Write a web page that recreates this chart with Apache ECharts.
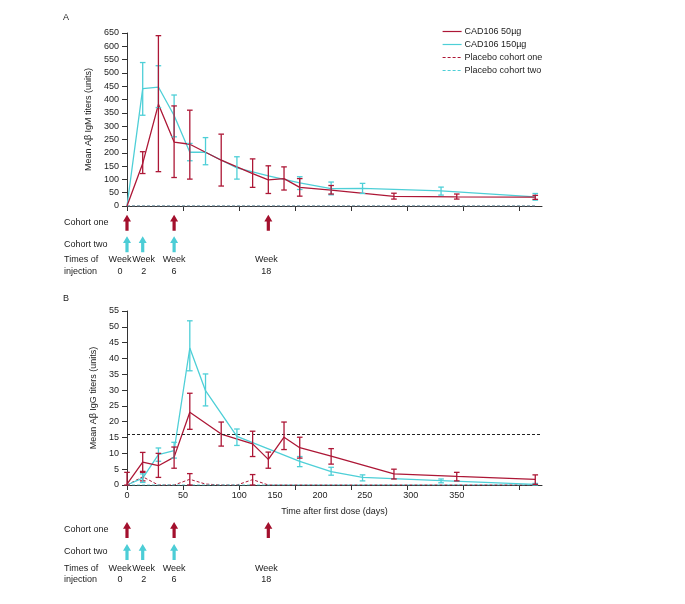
<!DOCTYPE html>
<html>
<head>
<meta charset="utf-8">
<script src="https://cdn.jsdelivr.net/npm/echarts@6/dist/echarts.min.js"></script>
<style>
html, body { margin: 0; padding: 0; background: #fff; }
#chart { width: 685px; height: 604px; }
</style>
</head>
<body>
<div id="chart"></div>
<script>
// panel A: IgM, CAD106 50ug (cohort one)
var igmDays50 = [0, 14, 28, 42, 56, 84, 112, 126, 140, 154, 182, 238, 294, 364]
var igmMean50 = [0, 160, 382, 240, 232, 172, 122, 98, 103, 70, 60, 36, 34, 33]
var igmLow50 = [null, 122, 129, 107, 101, 75, 70, 47, 60, 37, 45, 26, 26, 25]
var igmHigh50 = [null, 204, 640, 376, 360, 270, 177, 151, 147, 103, 77, 48, 45, 40]
// panel A: IgM, CAD106 150ug (cohort two)
var igmDays150 = [0, 14, 28, 42, 56, 70, 98, 126, 154, 182, 210, 280, 364]
var igmMean150 = [0, 441, 447, 340, 202, 202, 143, 113, 87, 65, 66, 57, 34]
var igmLow150 = [null, 341, 370, 260, 170, 155, 101, null, 62, 42, 47, 41, 22]
var igmHigh150 = [null, 539, 527, 417, 235, 257, 185, null, 110, 90, 85, 71, 47]
// panel A: placebo
var igmPlaceboDays = [0, 364]
var igmPlaceboOne = [0, 0]
var igmPlaceboTwo = [0, 0]

// panel B: IgG
var iggDays50 = [0, 14, 28, 42, 56, 84, 112, 126, 140, 154, 182, 238, 294, 364]
var iggMean50 = [0.3, 7.2, 6.1, 8.8, 23, 16.1, 13, 8.1, 15.1, 11.8, 9.1, 3.5, 2.7, 1.8]
var iggLow50 = [0, 4.3, 2.4, 5.3, 17.6, 12.3, 9, 5.3, 11.2, 8.5, 6.6, 1.9, 1.3, 0.2]
var iggHigh50 = [4, 10.3, 10, 12, 29, 19.9, 17, 10.4, 19.9, 15.1, 11.5, 5, 4, 3.2]
var iggDays150 = [0, 14, 28, 42, 56, 70, 98, 154, 182, 210, 280, 364]
var iggMean150 = [0, 2.2, 9.6, 10.9, 43.3, 29.8, 15.4, 7.5, 4.2, 2.4, 1.4, 0.2]
var iggLow150 = [null, 0.8, 7.5, 8.5, 36.1, 25, 12.5, 5.8, 3.1, 1.3, 0.7, 0]
var iggHigh150 = [null, 3.5, 11.7, 13.5, 51.9, 35.1, 17.7, 9, 5.6, 3.2, 1.9, 0.5]
var iggPlaceboDaysOne = [0, 14, 28, 42, 56, 70, 84, 98, 112, 126, 364]
var iggPlaceboOne = [0, 2.6, 0, 0, 1.8, 0.3, 0, 0, 1.7, 0, 0]
var iggPlaceboLowOne = [null, 1.3, null, null, 0, null, null, null, 0, null, null]
var iggPlaceboHighOne = [null, 4, null, null, 3.6, null, null, null, 3.3, null, null]
var iggPlaceboDaysTwo = [0, 14, 56, 98, 154, 210, 280, 364]
var iggPlaceboTwo = [0, 0, 0, 0, 0, 0, 0, 0]
var iggThreshold = 16

// axes
var xTickDays = [0, 50, 100, 150, 200, 250, 300, 350]
var xLabelDays = [0, 50, 100, 132, 172, 212, 253, 294]
var xTickLabels = ['0', '50', '100', '150', '200', '250', '300', '350']

// injection schedule
var injectionRows = ['Cohort one', 'Cohort two', 'Times of\ninjection']
var cohortOneWeeks = [0, 6, 18]
var cohortTwoWeeks = [0, 2, 6]
var injectionWeeks = [0, 2, 6, 18]

var red = '#ad1736'
var cyan = '#4ecfd7'
var arrowRed = '#a3102d'
var arrowCyan = '#4ccdd6'
var font = 'Liberation Sans, Arial, sans-serif'
var arrowPath = 'path://M5,0 L10,7.5 L7,7.5 L7,18 L3,18 L3,7.5 L0,7.5 Z'

function pairs(xs, ys) {
  return xs.map(function(x, i) { return [x, ys[i]] })
}

function bars(xs, lo, hi) {
  var out = []
  for (var i = 0; i < xs.length; i++) {
    if (lo[i] === null) continue
    out.push([xs[i], lo[i], hi[i]])
  }
  return out
}

function errorBarItem(params, api) {
  var x = api.value(0)
  var a = api.coord([x, api.value(1)])
  var b = api.coord([x, api.value(2)])
  var w = 2.8
  var style = { stroke: api.visual('color'), lineWidth: 1.3, fill: null }
  return {
    type: 'group',
    children: [
      { type: 'line', shape: { x1: a[0], y1: a[1], x2: b[0], y2: b[1] }, style: style },
      { type: 'line', shape: { x1: a[0] - w, y1: a[1], x2: a[0] + w, y2: a[1] }, style: style },
      { type: 'line', shape: { x1: b[0] - w, y1: b[1], x2: b[0] + w, y2: b[1] }, style: style }
    ]
  }
}

function lineSeries(name, xs, ys, color, axis, dashed) {
  return {
    name: name,
    type: 'line',
    xAxisIndex: axis,
    yAxisIndex: axis,
    data: pairs(xs, ys),
    symbol: 'none',
    color: color,
    lineStyle: { color: color, width: dashed ? 1 : 1.3, type: dashed ? [3, 2] : 'solid' },
    z: dashed ? 3 : 4
  }
}

function errorSeries(xs, lo, hi, color, axis) {
  return {
    name: 'err',
    type: 'custom',
    xAxisIndex: axis,
    yAxisIndex: axis,
    renderItem: errorBarItem,
    itemStyle: { color: color },
    data: bars(xs, lo, hi),
    encode: { x: 0, y: [1, 2] },
    z: 5
  }
}

function arrowSeries(weeks, row, color, axis) {
  return {
    type: 'scatter',
    xAxisIndex: axis,
    yAxisIndex: axis,
    symbol: arrowPath,
    symbolSize: [8, 16],
    itemStyle: { color: color, opacity: 1 },
    data: weeks.map(function(w) { return [w * 7, row] })
  }
}

function weekLabelSeries(axis) {
  var shift = { 0: -7, 2: 1, 6: 0, 18: -2 }
  return {
    type: 'scatter',
    xAxisIndex: axis,
    yAxisIndex: axis,
    symbolSize: 0,
    itemStyle: { opacity: 1, color: '#222' },
    data: injectionWeeks.map(function(w) {
      return { value: [w * 7, 2], label: { offset: [shift[w], 0] } }
    }),
    label: {
      show: true,
      position: 'inside',
      fontSize: 9,
      lineHeight: 11.5,
      fontFamily: font,
      color: '#222',
      textBorderWidth: 0,
      opacity: 1,
      formatter: function(p) { return 'Week\n' + p.value[0] / 7 }
    }
  }
}

function xAxisFor(grid, visible, withLabels) {
  return {
    type: 'value',
    gridIndex: grid,
    min: 0,
    max: 370,
    show: visible,
    splitLine: { show: false },
    axisLine: { lineStyle: { color: '#333', width: 1 } },
    axisTick: { show: true, length: 5, customValues: xTickDays, lineStyle: { color: '#333' } },
    axisLabel: {
      show: withLabels,
      customValues: xLabelDays,
      fontSize: 9,
      fontFamily: font,
      color: '#222',
      margin: 6,
      formatter: function(v) {
        var i = xLabelDays.indexOf(v)
        return i >= 0 ? xTickLabels[i] : ''
      }
    }
  }
}

function yAxisFor(grid, max, step, name, gap) {
  return {
    type: 'value',
    gridIndex: grid,
    min: 0,
    max: max,
    interval: step,
    name: name,
    nameLocation: 'middle',
    nameGap: gap,
    nameTextStyle: { fontSize: 9, fontFamily: font, color: '#222' },
    splitLine: { show: false },
    axisLine: { show: true, lineStyle: { color: '#333', width: 1 } },
    axisTick: { show: true, length: 5, lineStyle: { color: '#333' } },
    axisLabel: { fontSize: 9, fontFamily: font, color: '#222', margin: 8 }
  }
}

function rowAxisFor(grid) {
  return {
    type: 'category',
    gridIndex: grid,
    data: injectionRows,
    inverse: true,
    axisLine: { show: false },
    axisTick: { show: false },
    splitLine: { show: false },
    axisLabel: {
      align: 'left',
      margin: 63,
      fontSize: 9,
      lineHeight: 11.5,
      fontFamily: font,
      color: '#222'
    }
  }
}

var chart = echarts.init(document.getElementById('chart'), null, { renderer: 'canvas' })

var series = [
  // panel A
  lineSeries('Placebo cohort one', igmPlaceboDays, igmPlaceboOne, red, 0, true),
  lineSeries('Placebo cohort two', igmPlaceboDays, igmPlaceboTwo, cyan, 0, true),
  lineSeries('CAD106 150µg', igmDays150, igmMean150, cyan, 0, false),
  lineSeries('CAD106 50µg', igmDays50, igmMean50, red, 0, false),
  errorSeries(igmDays150, igmLow150, igmHigh150, cyan, 0),
  errorSeries(igmDays50, igmLow50, igmHigh50, red, 0),
  // panel A schedule
  arrowSeries(cohortOneWeeks, 0, arrowRed, 1),
  arrowSeries(cohortTwoWeeks, 1, arrowCyan, 1),
  weekLabelSeries(1),
  // panel B
  lineSeries('Placebo cohort one', iggPlaceboDaysOne, iggPlaceboOne, red, 2, true),
  lineSeries('Placebo cohort two', iggPlaceboDaysTwo, iggPlaceboTwo, cyan, 2, true),
  lineSeries('CAD106 150µg', iggDays150, iggMean150, cyan, 2, false),
  lineSeries('CAD106 50µg', iggDays50, iggMean50, red, 2, false),
  errorSeries(iggPlaceboDaysOne, iggPlaceboLowOne, iggPlaceboHighOne, red, 2),
  errorSeries(iggDays150, iggLow150, iggHigh150, cyan, 2),
  errorSeries(iggDays50, iggLow50, iggHigh50, red, 2),
  // panel B schedule
  arrowSeries(cohortOneWeeks, 0, arrowRed, 3),
  arrowSeries(cohortTwoWeeks, 1, arrowCyan, 3),
  weekLabelSeries(3)
]

// dashed threshold in panel B
series[12].markLine = {
  silent: true,
  symbol: ['none', 'none'],
  label: { show: false },
  lineStyle: { color: '#222', width: 1, type: [3, 2] },
  data: [{ yAxis: iggThreshold }]
}

chart.setOption({
  animation: false,
  backgroundColor: '#fff',
  textStyle: { fontFamily: font },
  title: [
    { text: 'A', left: 58, top: 8, textStyle: { fontSize: 9, fontWeight: 'normal', color: '#222', fontFamily: font } },
    { text: 'B', left: 58, top: 289, textStyle: { fontSize: 9, fontWeight: 'normal', color: '#222', fontFamily: font } }
  ],
  legend: {
    data: ['CAD106 50µg', 'CAD106 150µg', 'Placebo cohort one', 'Placebo cohort two'],
    orient: 'vertical',
    left: 437,
    top: 22,
    itemWidth: 19,
    itemHeight: 10,
    itemGap: 4,
    itemStyle: { opacity: 0 },
    lineStyle: { width: 1.2 },
    textStyle: { fontSize: 9, color: '#222', fontFamily: font, padding: [0, 0, 0, -2] }
  },
  grid: [
    { left: 127, top: 33, width: 415, height: 173 },
    { left: 127, top: 212, width: 415, height: 64.5 },
    { left: 127, top: 311, width: 415, height: 174 },
    { left: 127, top: 519, width: 415, height: 66 }
  ],
  xAxis: [
    xAxisFor(0, true, false),
    xAxisFor(1, false, false),
    Object.assign(xAxisFor(2, true, true), {
      name: 'Time after first dose (days)',
      nameLocation: 'middle',
      nameGap: 22,
      nameTextStyle: { fontSize: 9, fontFamily: font, color: '#222' }
    }),
    xAxisFor(3, false, false)
  ],
  yAxis: [
    yAxisFor(0, 650, 50, 'Mean Aβ IgM titers (units)', 33),
    rowAxisFor(1),
    yAxisFor(2, 55, 5, 'Mean Aβ IgG titers (units)', 28),
    rowAxisFor(3)
  ],
  series: series
})
</script>
</body>
</html>
